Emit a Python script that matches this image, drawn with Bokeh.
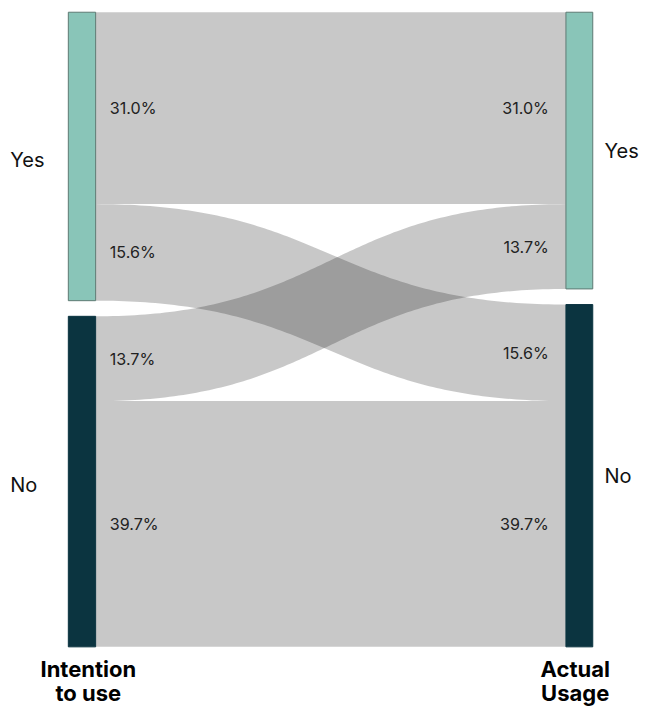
import numpy as np
from bokeh.plotting import figure
from bokeh.models import Range1d
from bokeh.embed import file_html
from bokeh.resources import INLINE
from bokeh.core.properties import value

# ---------------- data ----------------
node_names = ["Yes", "No"]
flow_source = ["Yes", "Yes", "No", "No"]
flow_target = ["Yes", "No", "Yes", "No"]
flow_pct = [31.0, 15.6, 13.7, 39.7]
flow_labels = ["31.0%", "15.6%", "13.7%", "39.7%"]
stage_titles = ["Intention\nto use", "Actual\nUsage"]
node_colors = {"Yes": "#89C5B8", "No": "#0B3440"}
node_lines = {"Yes": "#5E7A73", "No": "#0B3440"}

# ---------------- layout (reference-pixel units) ----------------
REF_W, REF_H = 659, 722
W, H = 643, 706
SC = W / REF_W
TOP_PX = 12          # reference px of value 0
K = 6.33             # px per percent
GAP = 16 / K         # gap between nodes, in percent units
LX0, LX1 = 69.5, 97.5
RX0, RX1 = 579.5, 607
FONT = "Inter"


def v_of(px):
    return (px - TOP_PX) / K


def fs(px):
    return f"{px * SC:.1f}px"


p = figure(width=W, height=H, x_range=Range1d(0, REF_W),
           y_range=Range1d(v_of(REF_H), v_of(0)), output_backend="svg",
           toolbar_location=None, min_border=0, x_axis_type=None, y_axis_type=None)
p.grid.visible = False
p.outline_line_color = None
p.background_fill_color = "white"

# node totals
left_tot = {n: sum(v for s, v in zip(flow_source, flow_pct) if s == n) for n in node_names}
right_tot = {n: sum(v for t, v in zip(flow_target, flow_pct) if t == n) for n in node_names}

left_pos, right_pos = {}, {}
y = 0.0
for n in node_names:
    left_pos[n] = [y, y + left_tot[n]]
    y += left_tot[n] + GAP
y = 0.0
for n in node_names:
    right_pos[n] = [y, y + right_tot[n]]
    y += right_tot[n] + GAP

# flows
lcur = {n: left_pos[n][0] for n in node_names}
rcur = {n: right_pos[n][0] for n in node_names}
xs, ys = [], []
lab_l, lab_r = [], []
s = np.linspace(0, 1, 120)
xm = (LX1 + RX0) / 2
bx = (1 - s) ** 3 * LX1 + 3 * (1 - s) ** 2 * s * xm + 3 * (1 - s) * s ** 2 * xm + s ** 3 * RX0
h = (1 - s) ** 3 + 3 * (1 - s) ** 2 * s
for src, tgt, v in zip(flow_source, flow_target, flow_pct):
    t0, b0 = lcur[src], lcur[src] + v
    t1, b1 = rcur[tgt], rcur[tgt] + v
    lcur[src] = b0
    rcur[tgt] = b1
    top = h * t0 + (1 - h) * t1
    bot = h * b0 + (1 - h) * b1
    xs.append(list(bx) + list(bx[::-1]))
    ys.append(list(top) + list(bot[::-1]))
    lab_l.append((t0 + b0) / 2)
    lab_r.append((t1 + b1) / 2)

p.patches(xs, ys, fill_color="black", fill_alpha=0.216, line_color=None)

# nodes
for n in node_names:
    p.quad(left=LX0, right=LX1, top=left_pos[n][0], bottom=left_pos[n][1],
           fill_color=node_colors[n], line_color=node_lines[n], line_width=1)
    p.quad(left=RX0, right=RX1, top=right_pos[n][0], bottom=right_pos[n][1],
           fill_color=node_colors[n], line_color=node_lines[n], line_width=1)

# flow labels
p.text(x=[112] * len(flow_labels), y=lab_l, text=flow_labels,
       text_font=value(FONT), text_font_size=fs(16.5), text_color="#222222",
       text_baseline="middle", text_align="left")
p.text(x=[562] * len(flow_labels), y=lab_r, text=flow_labels,
       text_font=value(FONT), text_font_size=fs(16.5), text_color="#222222",
       text_baseline="middle", text_align="right")

# node labels
p.text(x=[10] * len(node_names), y=[sum(left_pos[n]) / 2 + 0.5 for n in node_names],
       text=node_names, text_font=value(FONT), text_font_size=fs(20.5),
       text_color="#111111", text_baseline="middle", text_align="left")
p.text(x=[619] * len(node_names), y=[sum(right_pos[n]) / 2 for n in node_names],
       text=node_names, text_font=value(FONT), text_font_size=fs(20.5),
       text_color="#111111", text_baseline="middle", text_align="left")

# stage titles
title_x = [90, 589]
line1 = [t.split("\n")[0] for t in stage_titles]
line2 = [t.split("\n")[1] for t in stage_titles]
p.text(x=title_x, y=[v_of(684)] * 2, text=line1, text_font=value(FONT),
       text_font_size=fs(22.5), text_font_style="bold", text_color="#000000",
       text_baseline="alphabetic", text_align="center")
p.text(x=title_x, y=[v_of(708)] * 2, text=line2, text_font=value(FONT),
       text_font_size=fs(22.5), text_font_style="bold", text_color="#000000",
       text_baseline="alphabetic", text_align="center")

open("out.html", "w").write(file_html(p, INLINE))
